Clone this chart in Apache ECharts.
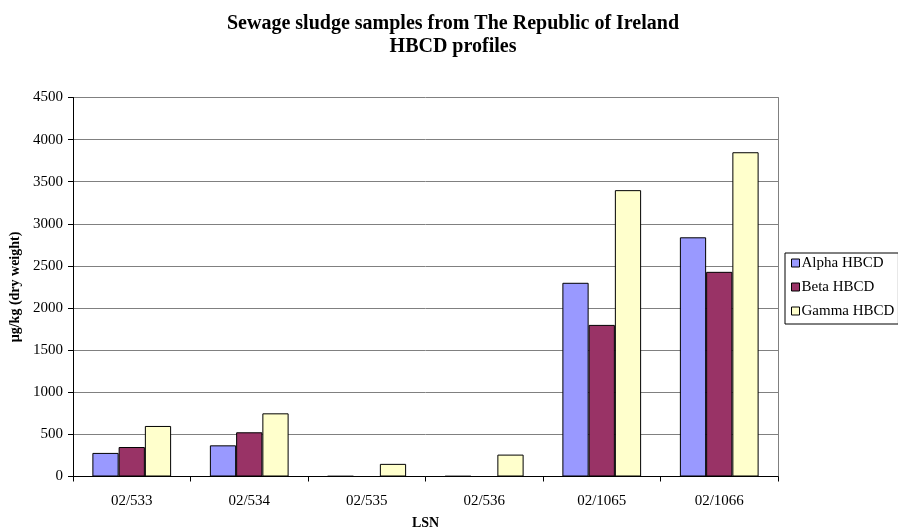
<!DOCTYPE html>
<html>
<head>
<meta charset="utf-8">
<script src="https://cdn.jsdelivr.net/npm/echarts@6/dist/echarts.min.js"></script>
<style>
html,body{margin:0;padding:0;background:#fff;}
#chart{width:898px;height:530px;}
</style>
</head>
<body>
<div id="chart"></div>
<script>
// Sample identifiers (LSN) and HBCD isomer concentrations, µg/kg dry weight
var categories = ['02/533', '02/534', '02/535', '02/536', '02/1065', '02/1066'];
var alphaHBCD = [280, 370, 5, 5, 2300, 2840];
var betaHBCD = [350, 525, 0, 0, 1800, 2430];
var gammaHBCD = [600, 750, 150, 260, 3400, 3850];
var seriesNames = ['Alpha HBCD', 'Beta HBCD', 'Gamma HBCD'];
var yTicks = [0, 500, 1000, 1500, 2000, 2500, 3000, 3500, 4000, 4500];

var serif = '"Liberation Serif", "DejaVu Serif", serif';
var colors = ['#9999FF', '#993366', '#FFFFCC'];

var chart = echarts.init(document.getElementById('chart'), null, {renderer: 'canvas'});

function barSeries(name, data, color) {
  return {
    name: name,
    type: 'bar',
    data: data,
    barGap: '0%',
    barCategoryGap: '33%',
    itemStyle: {color: color, borderColor: '#000', borderWidth: 1},
    emphasis: {disabled: true}
  };
}

chart.setOption({
  animation: false,
  backgroundColor: '#fff',
  title: {
    text: 'Sewage sludge samples from The Republic of Ireland\nHBCD profiles',
    left: 448,
    textAlign: 'center',
    top: 7,
    textStyle: {fontFamily: serif, fontSize: 20, fontWeight: 'bold', color: '#000', lineHeight: 23}
  },
  legend: {
    orient: 'vertical',
    left: 785,
    top: 253,
    width: 130,
    padding: [1, 4, 4, 6],
    itemGap: 6,
    itemWidth: 8,
    itemHeight: 8,
    borderColor: '#000',
    borderWidth: 1,
    icon: 'rect',
    data: seriesNames,
    textStyle: {fontFamily: serif, fontSize: 15, lineHeight: 18, color: '#000', padding: [0, 0, 0, -3]},
    itemStyle: {borderColor: '#000', borderWidth: 1}
  },
  grid: {
    left: 73, right: 120, top: 97.5, bottom: 53.5,
    containLabel: false, outerBoundsMode: 'none', show: false
  },
  xAxis: {
    type: 'category',
    data: categories,
    name: 'LSN',
    nameLocation: 'middle',
    nameGap: 40,
    nameTextStyle: {fontFamily: serif, fontSize: 14, fontWeight: 'bold', color: '#000'},
    axisLine: {lineStyle: {color: '#000', width: 1}},
    axisTick: {show: true, length: 5, inside: false, alignWithLabel: false, lineStyle: {color: '#000'}},
    axisLabel: {fontFamily: serif, fontSize: 15, color: '#000', margin: 17},
    splitLine: {show: false}
  },
  yAxis: [{
    type: 'value',
    min: yTicks[0],
    max: yTicks[yTicks.length - 1],
    interval: 500,
    name: 'µg/kg (dry weight)',
    nameLocation: 'middle',
    nameGap: 49,
    nameRotate: 90,
    nameTextStyle: {fontFamily: serif, fontSize: 14, fontWeight: 'bold', color: '#000'},
    axisLine: {show: true, lineStyle: {color: '#000', width: 1}},
    axisTick: {show: true, length: 5, lineStyle: {color: '#000'}},
    axisLabel: {
      fontFamily: serif, fontSize: 15, color: '#000', margin: 10,
      formatter: function (v) { return String(v); }
    },
    splitLine: {show: true, lineStyle: {color: '#808080', width: 1}}
  }, {
    // right-hand edge of the plot frame
    type: 'value',
    position: 'right',
    min: yTicks[0],
    max: yTicks[yTicks.length - 1],
    interval: 500,
    axisLine: {show: true, lineStyle: {color: '#808080', width: 1}},
    axisTick: {show: false},
    axisLabel: {show: false},
    splitLine: {show: false}
  }],
  series: [
    barSeries(seriesNames[0], alphaHBCD, colors[0]),
    barSeries(seriesNames[1], betaHBCD, colors[1]),
    barSeries(seriesNames[2], gammaHBCD, colors[2])
  ]
});
</script>
</body>
</html>
